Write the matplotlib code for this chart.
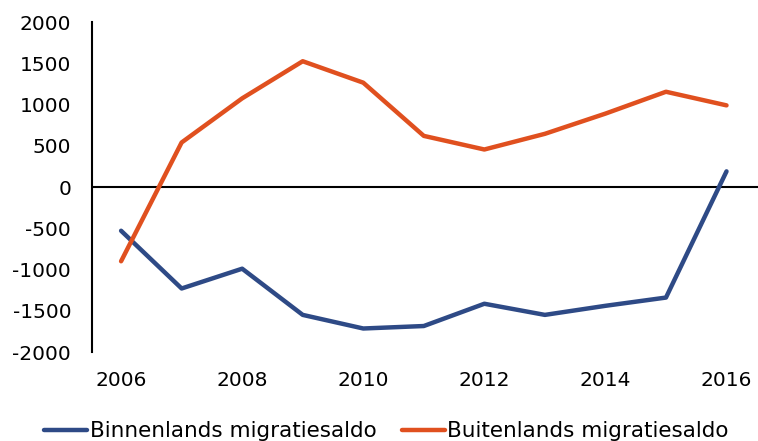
import matplotlib.pyplot as plt

years = list(range(2006, 2017))
binnenlands = [-530, -1230, -990, -1550, -1715, -1685, -1415, -1550, -1440, -1340, 190]
buitenlands = [-900, 540, 1075, 1525, 1265, 620, 455, 645, 890, 1155, 990]

blue = "#2E4A86"
orange = "#E0501F"

plt.rcParams['font.family'] = ['DejaVu Sans']
plt.rcParams['axes.unicode_minus'] = False

fig = plt.figure(figsize=(7.58, 4.41), dpi=100)
ax = fig.add_axes([0.1214, 0.2018, 0.8786, 0.7482])

ax.plot(years, binnenlands, color=blue, lw=3.2, label="Binnenlands migratiesaldo",
        solid_capstyle='round')
ax.plot(years, buitenlands, color=orange, lw=3.2, label="Buitenlands migratiesaldo",
        solid_capstyle='round')
ax.axhline(0, color='black', lw=1.5, zorder=1)

ax.set_xlim(2005.52, 2016.52)
ax.set_ylim(-2000, 2000)
ax.set_xticks(range(2006, 2017, 2))
ax.set_yticks(range(-2000, 2001, 500))
ax.tick_params(axis='x', length=0, pad=14, labelsize=14.5)
ax.tick_params(axis='y', length=0, pad=15, labelsize=14.5)

for s in ['top', 'right', 'bottom']:
    ax.spines[s].set_visible(False)
ax.spines['left'].set_linewidth(1.5)

fig.legend(loc='lower center', bbox_to_anchor=(0.51, -0.045), ncol=2, frameon=False,
           fontsize=15.5, handlelength=2.0, handletextpad=0.1, columnspacing=1.2)

fig.savefig("out.png", dpi=100)
